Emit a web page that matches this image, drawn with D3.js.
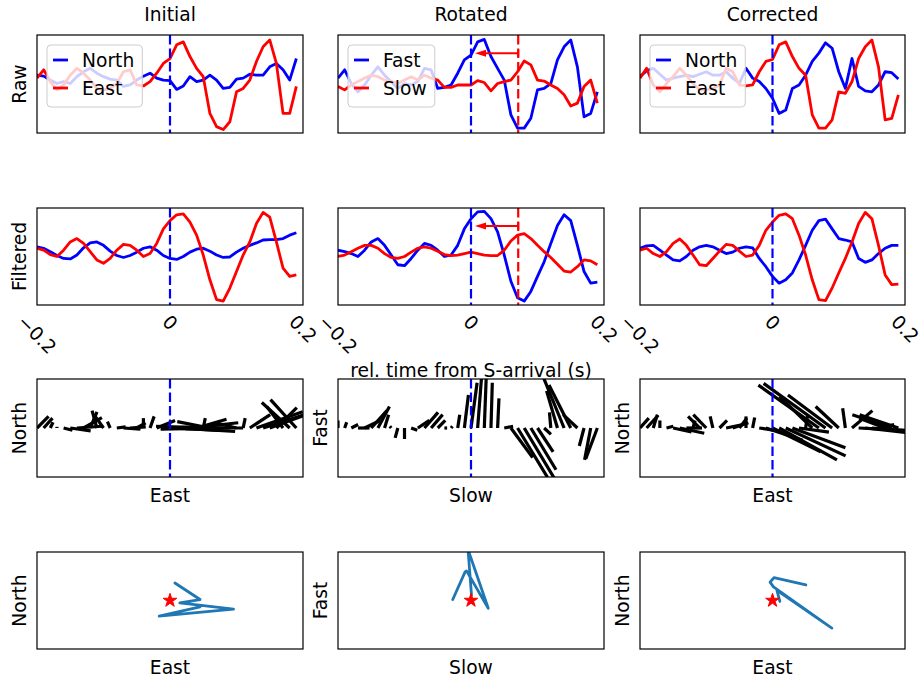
<!DOCTYPE html>
<html><head><meta charset="utf-8">
<script src="https://cdn.jsdelivr.net/npm/d3@7"></script>
<style>body{margin:0;background:#fff} svg{display:block} text{font-family:"DejaVu Sans",sans-serif;fill:#000}</style>
</head><body><svg width="922" height="679"></svg>
<script>
// ---------------- data ----------------
const timeS = [-0.20,-0.19,-0.18,-0.17,-0.16,-0.15,-0.14,-0.13,-0.12,-0.11,-0.10,-0.09,-0.08,-0.07,-0.06,-0.05,-0.04,-0.03,-0.02,-0.01,
               0.00,0.01,0.02,0.03,0.04,0.05,0.06,0.07,0.08,0.09,0.10,0.11,0.12,0.13,0.14,0.15,0.16,0.17,0.18,0.19];
const colTitles = ["Initial","Rotated","Corrected"];
const rowLabels = ["Raw","Filtered"];
const compLabels = [["North","East"],["Fast","Slow"],["North","East"]];
const xTickValues = [-0.2, 0, 0.2];
const xTickLabels = ["\u22120.2","0","0.2"];
const xAxisLabel = "rel. time from S-arrival (s)";
const slowDelay = 0.071;
const arrowLevel = 0.63;

const rawInitialNorth = [0.18,0.16,0.08,0.01,0.05,0.01,0.15,0.25,0.32,0.22,0.15,0.10,0.08,-0.05,-0.02,0.08,0.16,0.22,0.12,0.08,0.07,-0.11,-0.04,0.15,0.05,0.08,0.18,0.08,-0.09,-0.07,0.10,0.12,0.20,0.18,0.18,0.35,0.42,0.29,0.08,0.52];
const rawInitialEast  = [0.12,0.29,0.05,-0.12,-0.02,0.18,0.32,0.22,0.08,-0.09,-0.12,-0.09,0.01,0.25,0.29,-0.02,-0.04,0.05,0.22,0.42,0.52,0.80,0.86,0.56,0.32,0.15,-0.60,-0.87,-0.93,-0.77,-0.16,-0.09,0.08,0.46,0.76,0.90,0.42,-0.60,-0.60,-0.05];
const rawRotatedFast  = [0.12,0.29,0.01,-0.16,-0.02,0.18,0.35,0.18,0.05,-0.09,0.01,-0.02,0.05,0.32,0.29,-0.09,-0.07,-0.02,0.22,0.49,0.59,0.86,0.91,0.56,0.32,0.08,-0.63,-0.90,-0.90,-0.70,-0.12,-0.09,0.01,0.49,0.76,0.90,0.35,-0.67,-0.60,-0.16];
const rawRotatedSlow  = [-0.05,-0.12,-0.02,0.05,0.12,0.18,0.15,0.08,0.05,0.01,0.08,0.15,0.08,0.18,0.12,0.08,-0.07,-0.07,-0.02,-0.02,-0.02,0.07,0.03,-0.14,0.01,0.05,0.08,0.25,0.47,0.39,0.08,0.06,-0.02,-0.09,-0.22,-0.45,-0.39,-0.05,0.08,-0.39];
const rawCorrectedNorth = [0.15,0.27,0.32,0.20,0.08,0.12,0.15,0.18,0.15,0.20,0.25,0.18,0.18,0.25,0.12,0.01,0.32,0.12,0.05,-0.09,-0.29,-0.60,-0.53,-0.09,-0.02,0.18,0.46,0.63,0.84,0.73,0.25,-0.09,0.52,-0.05,-0.14,-0.16,-0.02,0.25,0.23,0.10];
const rawCorrectedEast  = [0.12,0.32,-0.02,-0.16,0.01,0.15,0.32,0.18,0.01,-0.12,-0.12,-0.09,-0.02,0.32,0.25,-0.02,-0.04,-0.02,0.25,0.46,0.50,0.80,0.86,0.56,0.32,0.18,-0.63,-0.90,-0.90,-0.73,-0.16,-0.19,0.05,0.52,0.76,0.90,0.35,-0.73,-0.70,-0.22];

const filtInitialNorth = [0.20,0.17,0.10,0.02,-0.04,-0.05,0.03,0.18,0.28,0.30,0.23,0.11,0.02,-0.02,0.02,0.09,0.17,0.20,0.13,0.02,-0.04,-0.06,0.00,0.09,0.15,0.17,0.11,0.03,-0.02,-0.01,0.09,0.17,0.23,0.28,0.34,0.35,0.35,0.37,0.44,0.49];
const filtInitialEast  = [0.17,0.13,0.04,0.00,0.13,0.30,0.37,0.27,0.10,-0.07,-0.14,-0.04,0.13,0.25,0.23,0.13,0.00,0.06,0.27,0.57,0.74,0.86,0.88,0.71,0.44,0.03,-0.48,-0.89,-0.92,-0.65,-0.31,0.03,0.30,0.68,0.91,0.81,0.30,-0.24,-0.41,-0.38];
const filtRotatedFast  = [0.13,0.10,0.06,0.00,0.13,0.30,0.37,0.23,0.03,-0.17,-0.19,-0.04,0.13,0.27,0.23,0.13,0.00,0.03,0.23,0.57,0.78,0.92,0.93,0.78,0.51,0.03,-0.51,-0.85,-0.92,-0.72,-0.41,-0.11,0.27,0.64,0.86,0.74,0.23,-0.31,-0.55,-0.53];
const filtRotatedSlow  = [0.00,0.03,0.10,0.17,0.23,0.23,0.17,0.06,-0.02,-0.04,0.00,0.09,0.17,0.20,0.17,0.11,0.04,0.02,0.03,0.06,0.09,0.06,0.03,0.02,0.02,0.13,0.32,0.44,0.47,0.37,0.23,0.10,-0.02,-0.16,-0.30,-0.32,-0.21,-0.07,-0.09,-0.17];
const filtCorrectedNorth = [0.17,0.22,0.23,0.13,0.03,-0.07,-0.09,0.00,0.13,0.20,0.23,0.20,0.13,0.06,0.09,0.17,0.20,0.18,-0.04,-0.21,-0.41,-0.55,-0.48,-0.34,-0.07,0.23,0.54,0.74,0.77,0.57,0.37,0.34,0.30,-0.04,-0.12,-0.07,0.06,0.17,0.23,0.23];
const filtCorrectedEast  = [0.13,0.17,0.06,0.00,0.10,0.27,0.36,0.23,0.03,-0.17,-0.19,-0.04,0.11,0.25,0.23,0.11,0.00,0.03,0.23,0.54,0.71,0.85,0.88,0.78,0.44,0.03,-0.48,-0.89,-0.91,-0.65,-0.34,-0.04,0.30,0.68,0.91,0.78,0.23,-0.38,-0.58,-0.57];

// particle-motion (hodogram) traces: horizontal component, vertical component
const hodoInitialE = [0.10,0.61,0.20,1.29,-0.22,0.61];
const hodoInitialN = [0.36,0.02,-0.05,-0.18,-0.32,-0.13];
const hodoRotatedSlow = [-0.37,-0.12,-0.09,0.35,-0.06,0.01];
const hodoRotatedFast = [0.02,0.59,0.61,-0.16,1.05,0.11];
const hodoCorrectedE = [0.15,0.09,1.21,1.15,0.02,-0.05,0.03,0.68];
const hodoCorrectedN = [-0.02,0.21,-0.57,-0.53,0.28,0.38,0.47,0.32];
const hodoStart = [0, 0];

// ---------------- layout / style ----------------
const FS = 18.7;
const BLUE = "#0000ff", RED = "#ff0000", HODO = "#1f77b4";
const colX = [[37,303],[338,604],[640,905]];
const rowY = [[35,133],[208,305],[379,477],[552,649]];
const timeDomain = [-0.2, 0.2], ampDomain = [-1, 1];
const hodoXDomain = [-2.7, 2.7], hodoYDomain = [-1, 1];

const columns = [
  {raw:[rawInitialNorth, rawInitialEast], filt:[filtInitialNorth, filtInitialEast], hodo:[hodoInitialE, hodoInitialN]},
  {raw:[rawRotatedFast, rawRotatedSlow], filt:[filtRotatedFast, filtRotatedSlow], hodo:[hodoRotatedSlow, hodoRotatedFast]},
  {raw:[rawCorrectedNorth, rawCorrectedEast], filt:[filtCorrectedNorth, filtCorrectedEast], hodo:[hodoCorrectedE, hodoCorrectedN]}
];

const svg = d3.select("svg");
const defs = svg.append("defs");
let nClip = 0;
function makePanel(c, r) {
  const [x0,x1] = colX[c], [y0,y1] = rowY[r];
  const id = "cp" + (nClip++);
  defs.append("clipPath").attr("id", id).append("rect")
    .attr("x",x0).attr("y",y0).attr("width",x1-x0).attr("height",y1-y0);
  const g = svg.append("g");
  const body = g.append("g").attr("clip-path", `url(#${id})`);
  return {g, body, x0, x1, y0, y1};
}
function frame(p) {
  p.g.append("rect").attr("x",p.x0).attr("y",p.y0).attr("width",p.x1-p.x0).attr("height",p.y1-p.y0)
    .attr("fill","none").attr("stroke","#000").attr("stroke-width",1.2);
}
function vline(p, xv, col) {
  p.body.append("line").attr("x1",xv).attr("x2",xv).attr("y1",p.y0).attr("y2",p.y1)
    .attr("stroke",col).attr("stroke-width",2.2).attr("stroke-dasharray","9.5,4");
}
function addText(sel, str, x, y, opts={}) {
  const t = sel.append("text").attr("x",x).attr("y",y).attr("font-size",FS)
    .attr("text-anchor", opts.anchor || "middle").text(str);
  if (opts.rotate) t.attr("transform", `rotate(${opts.rotate},${x},${y})`);
  return t;
}

columns.forEach((col, c) => {
  const cx = (colX[c][0] + colX[c][1]) / 2;
  addText(svg, colTitles[c], cx, 21);

  // rows 0,1: waveforms
  [col.raw, col.filt].forEach((series, r) => {
    const p = makePanel(c, r);
    const x = d3.scaleLinear().domain(timeDomain).range([p.x0, p.x1]);
    const y = d3.scaleLinear().domain(ampDomain).range([p.y1, p.y0]);
    const line = d3.line().x((d,i) => x(timeS[i])).y(d => y(d));
    [[series[0], BLUE], [series[1], RED]].forEach(([s, clr]) => {
      p.body.append("path").attr("d", line(s)).attr("fill","none").attr("stroke",clr)
        .attr("stroke-width",2.8).attr("stroke-linejoin","round");
    });
    vline(p, x(0), BLUE);
    if (c === 1) {
      vline(p, x(slowDelay), RED);
      const ay = y(arrowLevel), xs = x(slowDelay), xe = x(0) + 4;
      p.body.append("line").attr("x1",xs).attr("x2",xe+8).attr("y1",ay).attr("y2",ay)
        .attr("stroke",RED).attr("stroke-width",2);
      p.body.append("line").attr("x1",xs).attr("x2",xs).attr("y1",ay-3.5).attr("y2",ay+3.5)
        .attr("stroke",RED).attr("stroke-width",2);
      p.body.append("path").attr("d",`M${xe},${ay}L${xe+11},${ay-3.5}L${xe+11},${ay+3.5}Z`).attr("fill",RED);
    }
    frame(p);
    if (c === 0) addText(svg, rowLabels[r], 25.5, (p.y0+p.y1)/2, {rotate:-90});
    if (r === 0) {
      // legend
      const lg = p.g.append("g");
      const bx = p.x0 + 10, by = 45, rowsY = [60, 88];
      const box = lg.append("rect").attr("x",bx).attr("y",by).attr("height",62).attr("rx",4)
        .attr("fill","#fff").attr("fill-opacity",0.8).attr("stroke","#cccccc").attr("stroke-width",1);
      let maxW = 0;
      compLabels[c].forEach((lab, k) => {
        lg.append("line").attr("x1",bx+6).attr("x2",bx+21).attr("y1",rowsY[k]).attr("y2",rowsY[k])
          .attr("stroke", k === 0 ? BLUE : RED).attr("stroke-width",2.8);
        const t = addText(lg, lab, bx+35, rowsY[k] + 6.7, {anchor:"start"});
        maxW = Math.max(maxW, t.node().getComputedTextLength());
      });
      box.attr("width", 35 + maxW + 8);
    }
    if (r === 1) {
      xTickValues.forEach((v, k) => {
        const t = svg.append("text").attr("font-size",FS).attr("text-anchor","middle")
          .attr("dominant-baseline","central").text(xTickLabels[k]);
        const bb = t.node().getBBox();
        const bh = (bb.width + bb.height) * Math.SQRT1_2;
        t.attr("transform", `translate(${x(v)},${p.y1 + 6 + bh/2}) rotate(45)`);
      });
      if (c === 1) addText(svg, xAxisLabel, cx, 377);
    }
  });

  // row 2: stick plot of filtered particle motion
  {
    const p = makePanel(c, 2);
    const x = d3.scaleLinear().domain(timeDomain).range([p.x0, p.x1]);
    const y = d3.scaleLinear().domain(ampDomain).range([p.y1, p.y0]);
    const stickX = d3.scaleLinear().domain([0, 1]).range([0, 68]);
    const stickY = d3.scaleLinear().domain([0, 1]).range([0, 58]);
    const vert = col.filt[0], horiz = col.filt[1];
    p.body.selectAll("line.stick").data(timeS).join("line").attr("class","stick")
      .attr("x1", t => x(t)).attr("y1", y(0))
      .attr("x2", (t,i) => x(t) + stickX(horiz[i]))
      .attr("y2", (t,i) => y(0) - stickY(vert[i]))
      .attr("stroke","#000").attr("stroke-width",3.2);
    vline(p, x(0), BLUE);
    frame(p);
    addText(svg, compLabels[c][0], p.x0 - 11.5, (p.y0+p.y1)/2, {rotate:-90});
    addText(svg, compLabels[c][1], cx, 502);
  }

  // row 3: hodogram
  {
    const p = makePanel(c, 3);
    const hx = d3.scaleLinear().domain(hodoXDomain).range([p.x0, p.x1]);
    const hy = d3.scaleLinear().domain(hodoYDomain).range([p.y1, p.y0]);
    const [hh, hv] = col.hodo;
    const line = d3.line().x((d,i) => hx(hh[i])).y(d => hy(d));
    p.body.append("path").attr("d", line(hv)).attr("fill","none").attr("stroke",HODO)
      .attr("stroke-width",2.8).attr("stroke-linejoin","round").attr("stroke-linecap","round");
    p.body.append("path").attr("d", d3.symbol(d3.symbolStar).size(58)())
      .attr("transform", `translate(${hx(hodoStart[0])},${hy(hodoStart[1])})`)
      .attr("fill",RED).attr("stroke",RED).attr("stroke-width",1);
    frame(p);
    addText(svg, compLabels[c][0], p.x0 - 11.5, (p.y0+p.y1)/2, {rotate:-90});
    addText(svg, compLabels[c][1], cx, 674);
  }
});
</script></body></html>
